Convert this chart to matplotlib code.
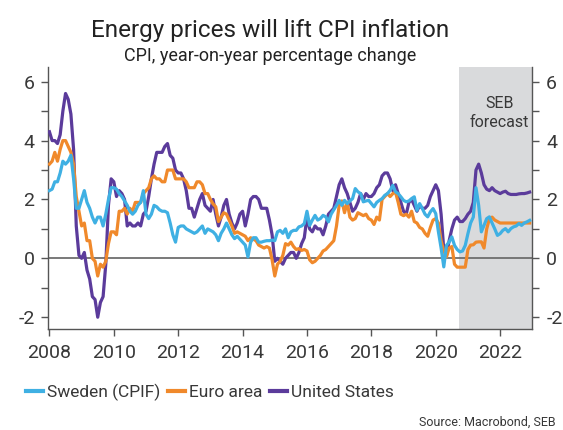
import numpy as np
import matplotlib
matplotlib.use("Agg")
import matplotlib.pyplot as plt
from matplotlib.lines import Line2D

plt.rcParams['font.family'] = ['Roboto', 'DejaVu Sans']

start_year = 2008
forecast_start = 2020.73

sweden_cpif = [
    2.3, 2.35, 2.6, 2.6, 2.9, 3.3, 3.2, 3.3, 3.5, 2.7, 1.7, 1.7,
    2.0, 2.3, 1.9, 1.7, 1.4, 1.2, 1.4, 1.4, 1.1, 1.5, 2.0, 2.4,
    2.4, 2.35, 2.2, 2.1, 1.95, 1.8, 1.6, 1.5, 1.6, 1.8, 1.9, 2.3,
    1.5, 1.35, 1.5, 1.8, 1.75, 1.65, 1.6, 1.6, 1.55, 1.2, 0.8, 0.55,
    1.05, 1.1, 1.1, 1.0, 0.95, 0.9, 0.85, 0.9, 1.0, 1.1, 0.85, 1.0,
    0.95, 0.9, 0.8, 0.6, 0.85, 1.0, 1.2, 1.0, 0.8, 0.67, 0.75, 0.65,
    0.55, 0.45, 0.05, 0.55, 0.7, 0.7, 0.55, 0.55, 0.58, 0.6, 0.6, 0.62,
    0.6, 0.9, 0.95, 0.85, 1.0, 0.7, 0.9, 0.95, 0.95, 1.07, 1.1, 1.18,
    1.6, 1.12, 1.3, 1.46, 1.3, 1.35, 1.46, 1.41, 1.24, 1.5, 1.65, 1.8,
    1.97, 1.8, 1.97, 1.86, 1.95, 2.03, 2.37, 2.26, 2.2, 1.92, 1.95, 1.97,
    1.86, 1.75, 1.9, 1.97, 2.03, 2.14, 2.2, 2.31, 2.48, 2.26, 2.2, 2.09,
    1.97, 1.92, 1.95, 2.03, 2.09, 1.63, 1.86, 1.69, 1.5, 1.41, 1.58, 1.69,
    1.52, 0.9, 0.35, -0.29, 0.44, 0.56, 0.73, 0.44, 0.3, 0.22, 0.25, 0.44,
    0.84, 1.2, 1.4, 2.4, 1.8, 0.9, 1.12, 1.35, 1.41, 1.2, 1.0, 0.78,
    0.84, 0.95, 1.01, 0.9, 1.01, 1.07, 1.1, 1.18, 1.12, 1.2, 1.24, 1.29,
]

euro_area = [
    3.2, 3.3, 3.6, 3.3, 3.7, 4.0, 4.0, 3.8, 3.6, 3.2, 2.1, 1.6,
    1.1, 1.2, 0.6, 0.6, 0.0, -0.1, -0.6, -0.2, -0.3, -0.1, 0.5, 0.9,
    0.9, 0.8, 1.6, 1.6, 1.7, 1.5, 1.7, 1.6, 1.9, 1.9, 1.9, 2.2,
    2.3, 2.4, 2.7, 2.8, 2.7, 2.7, 2.6, 2.6, 3.0, 3.0, 3.0, 2.7,
    2.7, 2.7, 2.7, 2.6, 2.4, 2.4, 2.4, 2.6, 2.6, 2.5, 2.2, 2.2,
    2.0, 1.85, 1.75, 1.25, 1.4, 1.55, 1.5, 1.3, 1.1, 0.85, 0.9, 0.85,
    0.8, 0.75, 0.6, 0.7, 0.65, 0.6, 0.45, 0.4, 0.35, 0.4, 0.35, -0.05,
    -0.6, -0.2, -0.1, 0.1, 0.5, 0.45, 0.55, 0.4, 0.3, 0.33, 0.27, 0.3,
    0.25, -0.05, -0.15, -0.1, 0.0, 0.1, 0.25, 0.3, 0.4, 0.5, 0.6, 1.1,
    1.8, 1.95, 1.55, 1.9, 1.4, 1.3, 1.35, 1.55, 1.5, 1.45, 1.5, 1.35,
    1.3, 1.15, 1.4, 1.3, 2.0, 2.1, 2.2, 2.1, 2.2, 2.25, 1.9, 1.5,
    1.45, 1.5, 1.4, 1.6, 1.25, 1.2, 1.05, 1.0, 0.85, 0.75, 1.05, 1.3,
    1.35, 1.2, 0.6, 0.25, 0.05, 0.35, 0.4, -0.2, -0.3, -0.3, -0.3, -0.3,
    0.3, 0.45, 0.46, 0.55, 0.56, 0.56, 0.35, 1.0, 1.35, 1.4, 1.3, 1.25,
    1.2, 1.2, 1.2, 1.2, 1.2, 1.2, 1.2, 1.2, 1.2, 1.2, 1.2, 1.2,
]

united_states = [
    4.3, 4.0, 4.0, 3.9, 4.2, 5.0, 5.6, 5.4, 4.9, 3.7, 1.1, 0.1,
    0.0, 0.2, -0.4, -0.7, -1.3, -1.4, -2.0, -1.5, -1.3, -0.2, 1.8, 2.7,
    2.6, 2.1, 2.3, 2.2, 2.0, 1.1, 1.2, 1.1, 1.1, 1.2, 1.1, 1.5,
    1.6, 2.1, 2.7, 3.2, 3.6, 3.6, 3.6, 3.8, 3.9, 3.5, 3.4, 3.0,
    2.9, 2.9, 2.7, 2.3, 1.7, 1.7, 1.4, 1.7, 2.0, 2.2, 1.8, 1.7,
    1.6, 2.0, 1.5, 1.1, 1.4, 1.8, 2.0, 1.5, 1.2, 1.0, 1.2, 1.5,
    1.6, 1.1, 1.5, 2.0, 2.1, 2.1, 2.0, 1.7, 1.7, 1.7, 1.3, 0.8,
    -0.1, 0.0, -0.1, -0.2, 0.0, 0.1, 0.2, 0.2, 0.0, 0.2, 0.5, 0.7,
    1.4, 1.0, 0.9, 1.1, 1.0, 1.0, 0.8, 1.1, 1.5, 1.6, 1.7, 2.1,
    2.5, 2.7, 2.4, 2.2, 1.9, 1.6, 1.7, 1.9, 2.2, 2.0, 2.2, 2.1,
    2.1, 2.2, 2.4, 2.5, 2.8, 2.9, 2.9, 2.7, 2.3, 2.5, 2.2, 1.9,
    1.6, 1.5, 1.9, 2.0, 1.8, 1.6, 1.8, 1.7, 1.7, 1.8, 2.1, 2.3,
    2.5, 2.3, 1.5, 0.3, 0.1, 0.6, 1.0, 1.3, 1.4, 1.25, 1.25, 1.35,
    1.5, 1.6, 1.9, 3.0, 3.2, 2.9, 2.5, 2.35, 2.3, 2.4, 2.3, 2.25,
    2.2, 2.25, 2.28, 2.2, 2.17, 2.17, 2.17, 2.19, 2.2, 2.2, 2.22, 2.25,
]

x_ticks = [2008, 2010, 2012, 2014, 2016, 2018, 2020, 2022]
y_ticks = [-2, -1, 0, 1, 2, 3, 4, 5, 6]
y_labels = ['-2', '', '0', '', '2', '', '4', '', '6']

n = len(united_states)
years = start_year + np.arange(n) / 12.0

c_se = '#3fb0e3'
c_eu = '#f0892b'
c_us = '#5b3b9b'
txt = '#383838'
axc = '#555555'

fig = plt.figure(figsize=(5.63, 4.30), dpi=100)
ax = fig.add_axes([0.0861, 0.2349, 0.8594, 0.6093])

ax.axvspan(forecast_start, 2023.0, color='#d9dadc', lw=0, zorder=0)
ax.axhline(0, color='#6e6e6e', lw=1.3, zorder=1)

lw = 2.3
ax.plot(years, united_states, color=c_us, lw=lw, zorder=3, solid_joinstyle='round')
ax.plot(years, euro_area, color=c_eu, lw=lw, zorder=4, solid_joinstyle='round')
ax.plot(years, sweden_cpif, color=c_se, lw=lw, zorder=5, solid_joinstyle='round')

ax.set_xlim(2007.97, 2023.0)
ax.set_ylim(-2.4, 6.5)
ax.set_xticks(x_ticks)
ax.set_xticklabels([str(t) for t in x_ticks])
ax.set_yticks(y_ticks)
ax.set_yticklabels(y_labels)

ax.tick_params(axis='both', colors=axc, labelcolor=txt, labelsize=14, length=5, width=1)
ax.tick_params(axis='y', left=True, right=True, labelleft=True, labelright=True, pad=5)
ax.tick_params(axis='x', pad=6)
for s in ['left', 'right', 'bottom']:
    ax.spines[s].set_color(axc)
    ax.spines[s].set_linewidth(1)
ax.spines['top'].set_visible(False)

ax.text(2021.98, 4.93, 'SEB\nforecast', ha='center', va='center', fontsize=11.5,
        color=txt, linespacing=1.3, zorder=6)

fig.text(0.48, 0.93, 'Energy prices will lift CPI inflation', ha='center', va='center',
         fontsize=17.5, color='#222222')
fig.text(0.48, 0.87, 'CPI, year-on-year percentage change', ha='center', va='center',
         fontsize=13, color='#222222')

handles = [Line2D([], [], color=c_se, lw=3),
           Line2D([], [], color=c_eu, lw=3),
           Line2D([], [], color=c_us, lw=3)]
fig.legend(handles, ['Sweden (CPIF)', 'Euro area', 'United States'],
           loc='center left', bbox_to_anchor=(0.046, 0.088), ncol=3, frameon=False,
           fontsize=12.5, handlelength=1.0, handletextpad=0.2, columnspacing=0.45,
           labelcolor=txt, borderaxespad=0, borderpad=0)

fig.text(0.987, 0.003, 'Source: Macrobond, SEB', ha='right', va='bottom', fontsize=9,
         color=txt)

fig.savefig('out.png', dpi=100)
